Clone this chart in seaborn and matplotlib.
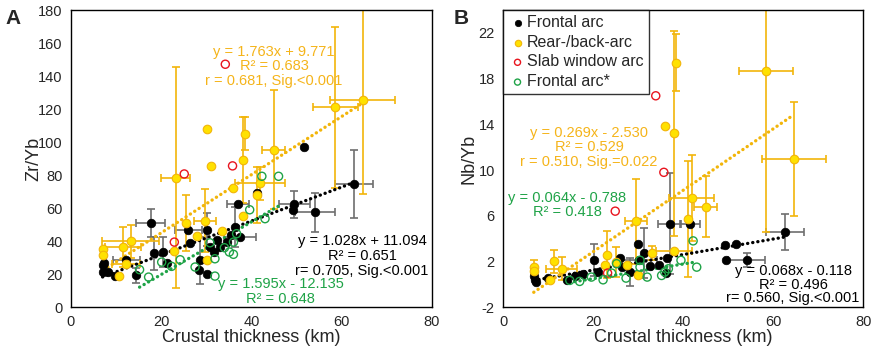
import numpy as np
import matplotlib
matplotlib.use('Agg')
import matplotlib.pyplot as plt
import seaborn as sns

###
#   DATA
###
# Panel A - Zr/Yb
a_back_x = [64.7, 58.6, 44.9, 38.6, 30.1, 38.1, 31.0, 23.2, 36.0, 41.9, 41.2, 38.1, 25.4, 29.7,
            27.9, 33.4, 30.1, 22.8, 13.2, 11.6, 12.2, 7.2, 7.2, 10.6]
a_back_y = [125.4, 121, 95.5, 105, 108, 89, 85.5, 78.5, 72.4, 75, 68, 55, 51, 52.4,
            43, 46, 28.3, 33.8, 40, 36.4, 26.3, 35.4, 31.8, 19]
a_back_xerr = [7.2, 5.0, 2.6, 0, 0, 0, 0, 3.2, 0, 5.5, 0, 0, 0, 2.5,
               0, 0, 0, 0, 6.3, 4.0, 3.0, 0, 0, 0]
a_back_yerr = [57, 49, 36, 10, 0, 26, 0, 67, 0, 10, 17, 0, 17, 19,
               0, 0, 0, 0, 10, 12, 0, 0, 0, 0]

a_front_x = [51.7, 62.8, 54.1, 49.5, 49.2, 17.7, 41.2, 37.0, 36.4, 37.5, 34.5, 33.0, 32.3, 26.0,
             26.4, 30.2, 30.8, 31.6, 28.6, 30.1, 28.4, 18.3, 20.3, 21.2, 14.4, 12.3, 9.8, 7.2,
             7.4, 7.0, 8.3, 35.5]
a_front_y = [97, 74.8, 57.4, 62.3, 59, 51, 69, 62.3, 48.5, 42.5, 39.4, 36.4, 40.5, 46.5,
             39, 47, 36.4, 33.4, 28.3, 20.2, 22.7, 32.8, 33.4, 27, 19.2, 28.3, 18.6, 25.3,
             27, 21, 21, 44]
a_front_xerr = [0, 4.2, 4.4, 3.5, 0, 3.2, 0, 2.5, 0, 3.5, 0, 0, 0, 3.0,
                0, 0, 0, 0, 0, 0, 0, 0, 0, 0, 0, 3.0, 0, 0,
                0, 0, 0, 0]
a_front_yerr = [0, 20.5, 12, 8, 0, 8.5, 0, 0, 12, 0, 0, 0, 0, 0,
                0, 10, 0, 0, 14, 0, 0, 10, 9, 0, 4.5, 0, 0, 0,
                0, 0, 0, 0]

a_slab_x = [34.2, 25.1, 35.8, 22.9]
a_slab_y = [147.2, 80.7, 85.6, 39.4]

a_star_x = [46.0, 42.3, 39.6, 43.0, 36.0, 36.0, 35.1, 36.7, 31.9, 31.9, 27.5, 24.2, 22.3, 20.1,
            15.2, 17.2, 30.8, 34.0]
a_star_y = [79.3, 79.3, 59, 53.6, 39.4, 32, 33.4, 44.5, 29.3, 18.8, 24.3, 28.7, 24.7, 27.3,
            22.7, 18.2, 39, 36]

# Panel B - Nb/Yb
b_back_x = [58.4, 64.6, 38.5, 37.9, 35.9, 41.9, 41.0, 45.0, 29.5, 23.1, 25.0, 33.1, 37.9, 27.6,
            22.6, 11.3, 13.0, 6.8, 6.8, 10.4, 30.0]
b_back_y = [18.7, 11.0, 19.4, 13.2, 13.85, 7.55, 5.7, 6.8, 5.5, 2.6, 1.95, 2.75, 2.9, 1.7,
            1.65, 2.0, 1.36, 1.5, 1.2, 0.35, 0.83]
b_back_xerr = [5.9, 7.2, 0, 0, 0, 5.0, 0, 2.6, 2.5, 0, 0, 0, 4.0, 0,
               0, 0, 3.5, 0, 0, 0, 0]
b_back_yerr = [14.1, 5.0, 2.5, 9.0, 0, 3.75, 5.1, 2.65, 3.7, 2.05, 1.3, 0.6, 0, 0,
               0, 1.0, 1.0, 0.6, 0, 0, 0]

b_front_x = [62.7, 49.3, 51.7, 49.5, 54.1, 37.0, 41.5, 29.9, 31.3, 25.9, 20.2, 36.4, 34.6, 32.6,
             30.1, 28.1, 21.1, 17.8, 15.9, 14.1, 10.0, 7.0, 6.8, 7.2, 26.3, 36.2]
b_front_y = [4.57, 3.4, 3.5, 2.1, 2.1, 5.3, 5.24, 3.55, 2.75, 2.3, 2.15, 2.3, 1.65, 1.56,
             2.1, 1.07, 1.07, 0.86, 0.69, 0.34, 0.54, 0.34, 0.69, 0.2, 1.5, 1.0]
b_front_xerr = [4.2, 0, 0, 0, 4.1, 2.5, 2.2, 0, 0, 0, 0, 0, 0, 0,
                4.0, 0, 0, 0, 0, 0, 0, 0, 0, 0, 0, 0]
b_front_yerr = [1.6, 0, 0, 0, 0.6, 4.4, 0, 0, 2.2, 0, 1.4, 0, 0, 0,
                0, 1.2, 0, 0, 0, 0, 0, 0, 0, 0, 0, 0]

b_slab_x = [33.9, 35.7, 24.9, 23.2]
b_slab_y = [16.5, 9.8, 6.4, 0.98]

b_star_x = [42.2, 43.0, 39.5, 36.7, 35.9, 35.2, 32.0, 30.4, 27.3, 25.2, 24.1, 22.2, 19.6, 17.0,
            14.8, 30.4]
b_star_y = [3.8, 1.5, 2.1, 1.36, 1.07, 0.77, 0.63, 2.1, 0.54, 1.8, 0.98, 0.39, 0.63, 0.25,
            0.34, 1.5]

# regression equations given on the figure (slope, intercept)
a_fits = {'back': (1.763, 9.771), 'front': (1.028, 11.094), 'star': (1.595, -12.135)}
b_fits = {'back': (0.269, -2.530), 'front': (0.068, -0.118), 'star': (0.064, -0.788)}

###
#   STYLE
###
sns.set_style('white')
plt.rcParams['font.family'] = ['Liberation Sans', 'DejaVu Sans']
plt.rcParams['font.size'] = 10.5
plt.rcParams['axes.unicode_minus'] = False

BLACK = '#000000'
GREY = '#6e6e6e'
YELLOW = '#ffe100'
YEDGE = '#f2b50a'
YTEXT = '#f5b41a'
RED = '#e8141e'
GREEN = '#1fa347'

fig = plt.figure(figsize=(8.72, 3.49), dpi=100)
ax_a = fig.add_axes([0.0814, 0.120, 0.414, 0.851])
ax_b = fig.add_axes([0.577, 0.120, 0.413, 0.851])


def draw_errors(ax, x, y, xerr, yerr, color):
    x, y, xerr, yerr = map(np.asarray, (x, y, xerr, yerr))
    m = (xerr > 0) | (yerr > 0)
    ax.errorbar(x[m], y[m], xerr=xerr[m], yerr=yerr[m], fmt='none', ecolor=color,
                elinewidth=1.2, capsize=3, capthick=1.2, zorder=1)


def draw_fit(ax, x, fit, color):
    xs = np.array([min(x), max(x)])
    ax.plot(xs, fit[0] * xs + fit[1], color=color, lw=2.4, ls=(0, (0.05, 1.5)),
            dash_capstyle='round', zorder=2)


def draw_panel(ax, back, front, slab, star, fits):
    draw_errors(ax, *front, GREY)
    draw_errors(ax, *back, YEDGE)
    draw_fit(ax, front[0], fits['front'], BLACK)
    draw_fit(ax, back[0], fits['back'], YEDGE)
    draw_fit(ax, star[0], fits['star'], GREEN)
    sns.scatterplot(x=front[0], y=front[1], ax=ax, color=BLACK, edgecolor=BLACK, s=38,
                    linewidth=0.5, label='Frontal arc', zorder=3)
    sns.scatterplot(x=back[0], y=back[1], ax=ax, color=YELLOW, edgecolor=YEDGE, s=38,
                    linewidth=0.8, label='Rear-/back-arc', zorder=4)
    sns.scatterplot(x=slab[0], y=slab[1], ax=ax, facecolors='none', edgecolor=RED, s=34,
                    linewidth=1.0, label='Slab window arc', zorder=5)
    sns.scatterplot(x=star[0], y=star[1], ax=ax, facecolors='none', edgecolor=GREEN, s=34,
                    linewidth=1.0, label='Frontal arc*', zorder=5)
    ax.set_xlim(0, 80)
    ax.set_xticks([0, 20, 40, 60, 80])
    ax.set_xlabel('Crustal thickness (km)', fontsize=13, labelpad=0)
    ax.tick_params(direction='out', length=4, width=0.8, pad=2, labelsize=10.5)
    for sp in ax.spines.values():
        sp.set_color('black')
        sp.set_linewidth(1.0)


###
#   PANEL A
###
draw_panel(ax_a,
           (a_back_x, a_back_y, a_back_xerr, a_back_yerr),
           (a_front_x, a_front_y, a_front_xerr, a_front_yerr),
           (a_slab_x, a_slab_y), (a_star_x, a_star_y), a_fits)
ax_a.set_ylim(0, 180)
ax_a.set_yticks(range(0, 181, 20))
ax_a.set_ylabel('Zr/Yb', fontsize=13, labelpad=-3)
ax_a.get_legend().remove()

ax_a.text(45.0, 146, 'y = 1.763x + 9.771\nR² = 0.683\nr = 0.681, Sig.<0.001', color=YTEXT,
          ha='center', va='center', fontsize=10.5, linespacing=1.05)
ax_a.text(64.5, 31, 'y = 1.028x + 11.094\nR² = 0.651\nr= 0.705, Sig.<0.001', color=BLACK,
          ha='center', va='center', fontsize=10.5, linespacing=1.05)
ax_a.text(46.5, 9.5, 'y = 1.595x - 12.135\nR² = 0.648', color=GREEN,
          ha='center', va='center', fontsize=10.5, linespacing=1.05)

###
#   PANEL B
###
draw_panel(ax_b,
           (b_back_x, b_back_y, b_back_xerr, b_back_yerr),
           (b_front_x, b_front_y, b_front_xerr, b_front_yerr),
           (b_slab_x, b_slab_y), (b_star_x, b_star_y), b_fits)
ax_b.set_ylim(-2, 24)
ax_b.set_yticks(range(-2, 23, 4))
ax_b.set_ylabel('Nb/Yb', fontsize=13, labelpad=1)

ax_b.text(19.1, 12.0, 'y = 0.269x - 2.530\nR² = 0.529\nr = 0.510, Sig.=0.022', color=YTEXT,
          ha='center', va='center', fontsize=10.5, linespacing=1.05)
ax_b.text(14.3, 6.95, 'y = 0.064x - 0.788\nR² = 0.418', color=GREEN,
          ha='center', va='center', fontsize=10.5, linespacing=1.05)
ax_b.text(64.4, -0.05, 'y = 0.068x - 0.118\nR² = 0.496\nr= 0.560, Sig.<0.001', color=BLACK,
          ha='center', va='center', fontsize=10.5, linespacing=0.95)

leg = ax_b.legend(loc='upper left', bbox_to_anchor=(0, 1), borderaxespad=0, fontsize=11.5,
                  frameon=True, fancybox=False, edgecolor='black', markerscale=0.75,
                  handletextpad=0.0, handlelength=1.2, borderpad=0.3, labelspacing=0.3)
leg.get_frame().set_linewidth(1.0)

fig.text(0.006, 0.975, 'A', fontsize=15, fontweight='bold', va='top')
fig.text(0.520, 0.975, 'B', fontsize=15, fontweight='bold', va='top')

plt.savefig('out.png', dpi=100)
